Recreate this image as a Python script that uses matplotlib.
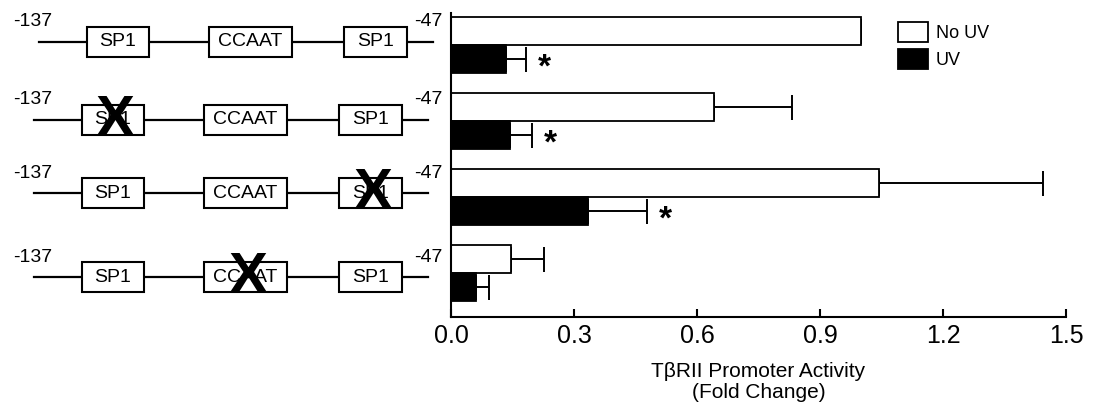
import matplotlib
matplotlib.use('Agg')
from matplotlib import pyplot as plt
from matplotlib.patches import Rectangle
import numpy as np

plt.rcParams['font.family'] = ['Liberation Sans', 'DejaVu Sans']

# promoter constructs (which element is mutated, None = wild type)
elements = ['SP1', 'CCAAT', 'SP1']
mutated = [None, 0, 2, 1]
start_label = '-137'
end_label = '-47'

# fold change of promoter activity, one-sided error bars
no_uv = [1.0, 0.642, 1.045, 0.147]
no_uv_err = [0.0, 0.19, 0.40, 0.08]
uv = [0.133, 0.145, 0.333, 0.061]
uv_err = [0.05, 0.053, 0.146, 0.032]
significant = [True, True, True, False]

xticks = [0.0, 0.3, 0.6, 0.9, 1.2, 1.5]

W, H = 1093, 416
fig = plt.figure(figsize=(W / 100, H / 100), dpi=100)

# left side: promoter schematics, drawn in pixel units
ad = fig.add_axes([0, 0, 1, 1])
ad.set_xlim(0, W)
ad.set_ylim(H, 0)
ad.axis('off')
ad.patch.set_visible(False)

row_y = [42, 120, 193, 277]
row_dx = [5, 0, 0, 0]
boxes = [(82, 144), (204, 287), (339, 402)]
for r, y in enumerate(row_y):
    dx = row_dx[r]
    ad.plot([34 + dx, 428 + dx], [y, y], color='black', lw=1.6, zorder=1)
    for k, (x0, x1) in enumerate(boxes):
        ad.add_patch(Rectangle((x0 + dx, y - 15), x1 - x0, 30, facecolor='white',
                               edgecolor='black', lw=1.5, zorder=2))
        ad.text((x0 + x1) / 2 + dx, y, elements[k], ha='center', va='center',
                fontsize=14, zorder=3)
        if mutated[r] == k:
            # the X marks a mutated element
            ad.text((x0 + x1) / 2 + dx + 2, y + 1, 'X', ha='center', va='center',
                    fontsize=42, fontweight='bold', zorder=4)
    ad.text(13, y - 20, start_label, ha='left', va='center', fontsize=14)
    ad.text(414, y - 20, end_label, ha='left', va='center', fontsize=14)

# right side: bar chart
ax = fig.add_axes([451 / W, 1 - 317 / H, 615 / W, 304 / H])
grp = np.arange(len(no_uv))
h = 0.37
y_w = grp + 0.237
y_b = grp + 0.605
ax.barh(y_w, no_uv, height=h, color='white', edgecolor='black', lw=1.3, label='No UV', zorder=2)
ax.barh(y_b, uv, height=h, color='black', edgecolor='black', lw=1.3, label='UV', zorder=2)
ax.errorbar(no_uv, y_w, xerr=[np.zeros(4), no_uv_err], fmt='none', ecolor='black',
            elinewidth=1.4, capsize=9, capthick=1.4, zorder=1)
ax.errorbar(uv, y_b, xerr=[np.zeros(4), uv_err], fmt='none', ecolor='black',
            elinewidth=1.4, capsize=9, capthick=1.4, zorder=1)
for i in range(len(uv)):
    if significant[i]:
        ax.text(uv[i] + uv_err[i] + 0.045, y_b[i] + 0.12, '*', ha='center', va='center',
                fontsize=24, fontweight='bold')

ax.set_xlim(0, 1.5)
ax.set_ylim(4, 0)
ax.set_xticks(xticks)
ax.set_xticklabels(['%.1f' % t for t in xticks])
ax.set_yticks([])
for s in ['top', 'right']:
    ax.spines[s].set_visible(False)
for s in ['left', 'bottom']:
    ax.spines[s].set_linewidth(1.5)
ax.tick_params(axis='x', direction='in', length=6, width=1.5, labelsize=18, pad=5)
ax.set_xlabel('T\u03b2RII Promoter Activity\n(Fold Change)', fontsize=15,
              labelpad=10, linespacing=1.15)

ax.legend(loc='upper left', bbox_to_anchor=(898 / W, 1 - 22 / H),
          bbox_transform=fig.transFigure, frameon=False, fontsize=13,
          handlelength=1.65, handleheight=1.35, labelspacing=0.35,
          handletextpad=0.45, borderpad=0, borderaxespad=0)

fig.savefig('out.png', dpi=100)
